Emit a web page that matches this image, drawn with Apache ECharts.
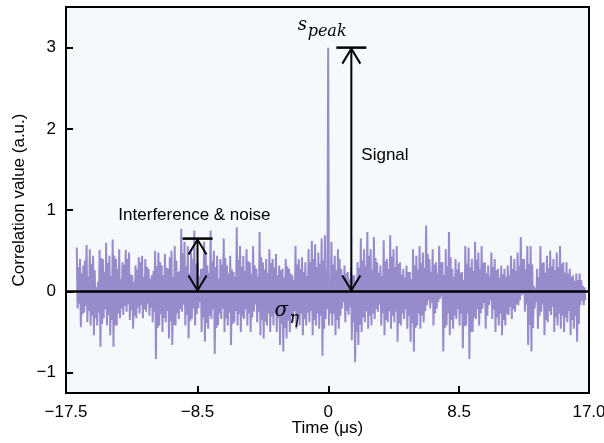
<!DOCTYPE html>
<html><head><meta charset="utf-8">
<script src="https://cdn.jsdelivr.net/npm/echarts@6/dist/echarts.min.js"></script>
<style>html,body{margin:0;padding:0;background:#fff}#c{width:604px;height:443px}</style>
</head><body><div id="c"></div>
<script>
// ---- data ----
const xTicks = [-17.05, -8.5, 0, 8.5, 16.95];
const xTickLabels = ['\u221217.5', '\u22128.5', '0', '8.5', '17.0'];
const yTicks = [-1, 0, 1, 2, 3];
const yTickLabels = ['\u22121', '0', '1', '2', '3'];
const tStart = -16.35, tEnd = 16.55;
// outer positive excursions of the correlation trace, read left to right
const upperValues = [
 0.54,0.40,0.32,0.57,0.52,0.44,0.05,0.51,0.40,0.60,0.44,0.64,0.40,0.52,0.36,0.51,0.48,0.20,0.32,0.42,0.44,0.40,0.28,0.20,0.50,
 0.48,0.32,0.46,0.28,0.50,0.56,0.24,0.77,0.61,0.56,0.48,0.75,0.36,0.28,0.61,0.32,0.75,0.50,0.44,0.40,0.65,0.32,0.44,0.24,0.79,0.56,
 0.44,0.52,0.36,0.56,0.28,0.73,0.36,0.40,0.52,0.40,0.46,0.32,0.28,0.40,0.28,0.20,0.56,0.40,0.42,0.36,0.52,0.62,0.58,0.48,0.65,0.69,3.00,
 0.61,0.44,0.52,0.28,0.32,0.24,0.28,0.20,0.36,0.65,0.52,0.73,0.52,0.67,0.36,0.32,0.63,0.40,0.69,0.52,0.56,0.36,0.28,0.32,0.24,0.52,0.44,
 0.56,0.48,0.81,0.40,0.52,0.36,0.56,0.36,0.52,0.73,0.28,0.40,0.36,0.24,0.56,0.54,0.40,0.61,0.48,0.56,0.36,0.32,0.48,0.40,0.28,0.32,0.28,
 0.32,0.44,0.40,0.48,0.67,0.40,0.56,0.56,0.07,0.28,0.56,0.36,0.44,0.50,0.40,0.48,0.56,0.36,0.36,0.28,0.20,0.22,0.22,0.07
];
// outer negative excursions
const lowerValues = [
 -0.21,-0.44,-0.26,-0.38,-0.42,-0.54,-0.42,-0.68,-0.33,-0.42,-0.54,-0.68,-0.42,-0.33,-0.29,-0.25,-0.35,-0.46,-0.33,-0.27,-0.33,-0.25,-0.30,-0.38,-0.83,
 -0.42,-0.50,-0.38,-0.58,-0.66,-0.42,-0.34,-0.25,-0.42,-0.58,-0.34,-0.42,-0.21,-0.50,-0.62,-0.46,-0.34,-0.77,-0.42,-0.34,-0.50,-0.42,-0.66,-0.38,-0.42,-0.50,
 -0.34,-0.42,-0.50,-0.25,-0.38,-0.54,-0.58,-0.42,-0.50,-0.42,-0.50,-0.66,-0.74,-0.58,-0.50,-0.38,-0.46,-0.42,-0.54,-0.42,-0.38,-0.54,-0.42,-0.46,-0.79,-0.34,-0.42,
 -0.42,-0.54,-0.46,-0.21,-0.38,-0.29,-0.60,-0.87,-0.66,-0.50,-0.38,-0.46,-0.42,-0.34,-0.25,-0.42,-0.54,-0.38,-0.46,-0.38,-0.62,-0.42,-0.34,-0.46,-0.62,-0.74,-0.42,
 -0.46,-0.38,-0.17,-0.21,-0.42,-0.21,-0.09,-0.74,-0.42,-0.54,-0.46,-0.34,-0.42,-0.70,-0.42,-0.83,-0.50,-0.34,-0.42,-0.21,-0.46,-0.17,-0.34,-0.50,-0.42,-0.54,-0.42,
 -0.29,-0.34,-0.25,-0.17,-0.05,-0.25,-0.66,-0.74,-0.21,-0.46,-0.25,-0.54,-0.38,-0.29,-0.50,-0.42,-0.46,-0.50,-0.38,-0.54,-0.46,-0.62,-0.17,-0.17
];
// inner (in-between) positive samples
const innerUpperValues = [
 0.30,0.22,0.38,0.18,0.34,0.26,0.12,0.41,0.24,0.35,0.19,0.44,0.28,0.15,0.33,0.40,0.21,0.12,0.27,0.36,0.18,0.30,0.16,0.25,0.31,
 0.36,0.20,0.29,0.42,0.17,0.38,0.25,0.47,0.31,0.22,0.40,0.34,0.19,0.28,0.45,0.23,0.37,0.30,0.16,0.33,0.41,0.22,0.27,0.18,0.39,0.30,
 0.25,0.37,0.21,0.32,0.18,0.42,0.27,0.23,0.35,0.29,0.20,0.26,0.17,0.31,0.22,0.14,0.33,0.28,0.24,0.19,0.36,0.40,0.30,0.34,0.38,0.26,0.10,
 0.33,0.26,0.40,0.18,0.22,0.15,0.20,0.13,0.29,0.38,0.31,0.44,0.27,0.41,0.23,0.19,0.37,0.28,0.43,0.30,0.34,0.21,0.17,0.24,0.15,0.32,0.27,
 0.35,0.29,0.46,0.24,0.33,0.22,0.36,0.20,0.31,0.42,0.18,0.27,0.23,0.14,0.34,0.30,0.25,0.39,0.28,0.35,0.22,0.19,0.30,0.26,0.17,0.21,0.18,
 0.20,0.28,0.25,0.31,0.40,0.27,0.34,0.33,0.04,0.18,0.35,0.23,0.29,0.31,0.26,0.30,0.34,0.23,0.22,0.18,0.13,0.14,0.14,0.05
];
// inner (in-between) negative samples
const innerLowerValues = [
 -0.15,-0.28,-0.18,-0.24,-0.30,-0.33,-0.26,-0.40,-0.22,-0.29,-0.35,-0.42,-0.27,-0.21,-0.18,-0.16,-0.23,-0.30,-0.20,-0.17,-0.22,-0.15,-0.20,-0.25,-0.45,
 -0.28,-0.33,-0.24,-0.37,-0.41,-0.27,-0.22,-0.16,-0.29,-0.36,-0.21,-0.28,-0.13,-0.32,-0.39,-0.30,-0.22,-0.45,-0.27,-0.21,-0.33,-0.26,-0.40,-0.24,-0.28,-0.31,
 -0.22,-0.27,-0.32,-0.16,-0.25,-0.35,-0.37,-0.27,-0.31,-0.26,-0.33,-0.40,-0.45,-0.36,-0.31,-0.24,-0.29,-0.27,-0.34,-0.26,-0.24,-0.35,-0.27,-0.30,-0.46,-0.22,-0.27,
 -0.27,-0.35,-0.30,-0.13,-0.24,-0.19,-0.38,-0.50,-0.41,-0.32,-0.24,-0.30,-0.27,-0.22,-0.16,-0.27,-0.35,-0.24,-0.30,-0.25,-0.39,-0.27,-0.22,-0.30,-0.39,-0.45,-0.27,
 -0.30,-0.24,-0.11,-0.14,-0.27,-0.13,-0.06,-0.45,-0.27,-0.35,-0.30,-0.22,-0.27,-0.43,-0.27,-0.50,-0.32,-0.22,-0.27,-0.14,-0.30,-0.11,-0.22,-0.32,-0.27,-0.35,-0.27,
 -0.19,-0.22,-0.16,-0.11,-0.03,-0.16,-0.41,-0.45,-0.13,-0.30,-0.16,-0.35,-0.24,-0.19,-0.32,-0.27,-0.30,-0.32,-0.24,-0.35,-0.30,-0.40,-0.11,-0.11
];
// annotation anchors (data coordinates)
const signalArrow = { t: 1.5, from: 0, to: 3.0 };
const noiseArrow = { t: -8.5, from: 0, to: 0.65 };
const signalText = { t: 2.15, v: 1.67, text: 'Signal' };
const noiseText = { t: -8.7, v: 0.94, text: 'Interference & noise' };
const speakText = { t: -1.99, v: 3.28, main: 's', sub: 'peak' };
const sigmaText = { t: -3.49, v: -0.24, main: '\u03c3', sub: '\u03b7' };

// ---- build trace ----
const N = upperValues.length;
const dt = (tEnd - tStart) / (N - 1);
const trace = [];
for (let i = 0; i < N; i++) {
  const t = tStart + i * dt;
  trace.push([t, upperValues[i]]);
  trace.push([t + dt * 0.25, lowerValues[i]]);
  trace.push([t + dt * 0.5, innerUpperValues[i]]);
  trace.push([t + dt * 0.75, innerLowerValues[i]]);
}

const FONT = "'Liberation Sans', Arial, sans-serif";
const MATH = "'DejaVu Serif', serif";

function arrowGroup(api, a) {
  const p0 = api.coord([a.t, a.from]);
  const p1 = api.coord([a.t, a.to]);
  const x = p0[0], hw = 9, hh = 16, cap = 15;
  const st = { stroke: '#000', lineWidth: 2, fill: null };
  return [
    { type: 'line', shape: { x1: x, y1: p0[1], x2: x, y2: p1[1] }, style: st },
    { type: 'line', shape: { x1: x - cap, y1: p1[1], x2: x + cap, y2: p1[1] }, style: { stroke: '#000', lineWidth: 2.5 } },
    { type: 'polyline', shape: { points: [[x - hw, p1[1] + hh], [x, p1[1] + 1], [x + hw, p1[1] + hh]] }, style: st },
    { type: 'polyline', shape: { points: [[x - hw, p0[1] - hh], [x, p0[1] - 1], [x + hw, p0[1] - hh]] }, style: st }
  ];
}
function mathText(api, m, mainSize, subSize, subDx, subDy) {
  const p = api.coord([m.t, m.v]);
  return [
    { type: 'text', style: { text: m.main, x: p[0], y: p[1], font: 'italic ' + mainSize + 'px ' + MATH, fill: '#000', align: 'left', verticalAlign: 'middle' } },
    { type: 'text', style: { text: m.sub, x: p[0] + subDx, y: p[1] + subDy, font: 'italic ' + subSize + 'px ' + MATH, fill: '#000', align: 'left', verticalAlign: 'middle' } }
  ];
}

const chart = echarts.init(document.getElementById('c'), null, { renderer: 'canvas' });
chart.setOption({
  animation: false,
  backgroundColor: '#fff',
  grid: { left: 66, right: 15, top: 7, bottom: 50, show: true, containLabel: false, outerBoundsMode: 'none',
    backgroundColor: '#f5f9fc', borderColor: '#000', borderWidth: 2 },
  xAxis: {
    type: 'value', min: -17.05, max: 16.95,
    name: 'Time (\u03bcs)', nameLocation: 'middle', nameGap: 27, nameMoveOverlap: false,
    nameTextStyle: { fontFamily: FONT, fontSize: 17, color: '#000' },
    axisLine: { show: true, onZero: false, lineStyle: { color: '#000', width: 2 } },
    axisTick: { show: true, inside: true, length: 7, lineStyle: { color: '#000', width: 2 }, customValues: [-8.5, 0, 8.5] },
    axisLabel: { fontFamily: FONT, fontSize: 17, color: '#000', margin: 11, customValues: xTicks,
      formatter: v => { const i = xTicks.findIndex(t => Math.abs(t - v) < 1e-6); return i >= 0 ? xTickLabels[i] : ''; } },
    splitLine: { show: false }
  },
  yAxis: {
    type: 'value', min: -1.25, max: 3.5,
    name: 'Correlation value (a.u.)', nameLocation: 'middle', nameGap: 38, nameMoveOverlap: false,
    nameTextStyle: { fontFamily: FONT, fontSize: 17, color: '#000' },
    axisLine: { show: true, onZero: false, lineStyle: { color: '#000', width: 2 } },
    axisTick: { show: true, inside: true, length: 7, lineStyle: { color: '#000', width: 2 }, customValues: yTicks },
    axisLabel: { fontFamily: FONT, fontSize: 17, color: '#000', margin: 10, customValues: yTicks,
      formatter: v => { const i = yTicks.findIndex(t => Math.abs(t - v) < 1e-6); return i >= 0 ? yTickLabels[i] : ''; } },
    splitLine: { show: false }
  },
  series: [
    {
      type: 'line', data: trace, showSymbol: false, symbol: 'none', z: 2,
      lineStyle: { color: '#978bcc', width: 2 },
      markLine: { silent: true, symbol: 'none', label: { show: false }, z: 3,
        lineStyle: { color: '#000', width: 2.5, type: 'solid' }, data: [{ yAxis: 0 }] }
    },
    {
      type: 'custom', z: 5, silent: true, data: [[0, 0]],
      renderItem: (params, api) => {
        const children = [].concat(
          arrowGroup(api, signalArrow),
          arrowGroup(api, noiseArrow),
          mathText(api, speakText, 18, 16, 10, 7),
          mathText(api, sigmaText, 20, 16, 15, 8)
        );
        const ps = api.coord([signalText.t, signalText.v]);
        const pn = api.coord([noiseText.t, noiseText.v]);
        children.push({ type: 'text', style: { text: signalText.text, x: ps[0], y: ps[1], font: '17px ' + FONT, fill: '#000', align: 'left', verticalAlign: 'middle' } });
        children.push({ type: 'text', style: { text: noiseText.text, x: pn[0], y: pn[1], font: '17px ' + FONT, fill: '#000', align: 'center', verticalAlign: 'middle' } });
        return { type: 'group', children };
      }
    }
  ]
});
</script>
</body></html>
